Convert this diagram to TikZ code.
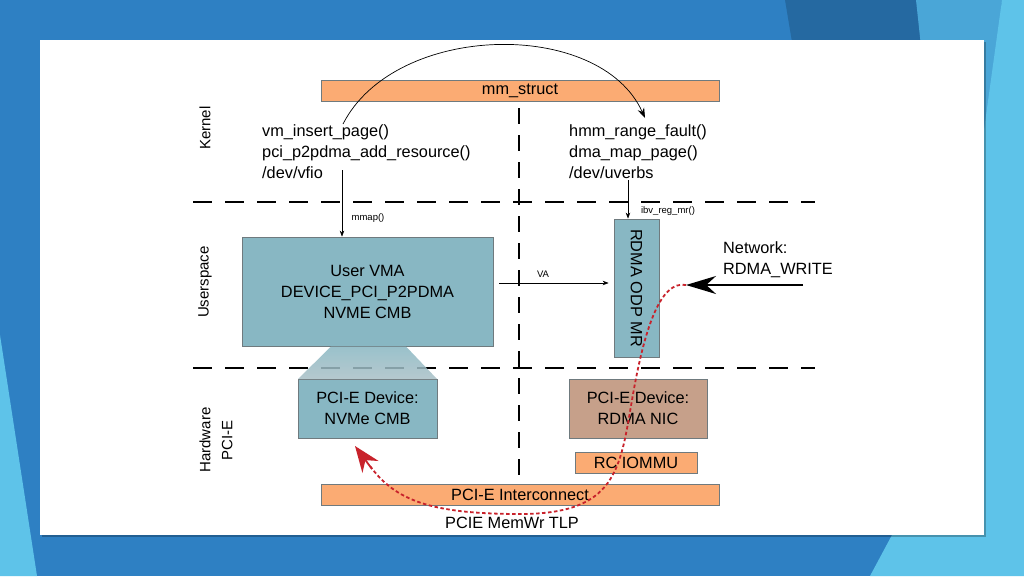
\documentclass[tikz,border=0pt]{standalone}
\usepackage{fontspec}
\setmainfont{Liberation Sans}
\usetikzlibrary{arrows.meta}
\definecolor{bgblue}{HTML}{2E80C3}
\definecolor{bgdark}{HTML}{2569A1}
\definecolor{bgmid}{HTML}{4AA6D7}
\definecolor{bglight}{HTML}{5EC3E9}
\definecolor{teal}{HTML}{88B7C3}
\definecolor{tealfade}{HTML}{A9C0C6}
\definecolor{orng}{HTML}{FBAB73}
\definecolor{tan}{HTML}{C6A08A}
\definecolor{bordergray}{HTML}{6F7A7E}
\definecolor{redline}{HTML}{C8222B}
\begin{document}
\begin{tikzpicture}[x=1pt,y=-1pt,
  boxstyle/.style={draw=bordergray, line width=0.8pt, inner sep=0pt, align=center,
    font=\fontsize{16.3}{21}\selectfont},
  tealbox/.style={boxstyle, fill=teal},
  orbar/.style={boxstyle, fill=orng},
  tanbox/.style={boxstyle, fill=tan},
  bigtext/.style={inner sep=0pt, align=left, font=\fontsize{16.3}{21}\selectfont},
  smalltext/.style={inner sep=0pt, font=\fontsize{9.5}{11}\selectfont},
  sidelabel/.style={inner sep=0pt, align=center, rotate=90, font=\fontsize{15}{22}\selectfont},
  hdash/.style={line width=2.8pt, dash pattern=on 19pt off 13pt},
  vdash/.style={line width=2.6pt, dash pattern=on 16pt off 11pt},
  thinarrow/.style={line width=0.6pt, -{Stealth[length=6pt,width=4.5pt]}},
]
\useasboundingbox (0,0) rectangle (1024,576);
% background
\fill[bgblue] (0,0) rectangle (1024,576);
\fill[bgdark] (785,0) -- (916,0) -- (930,60) -- (795,60) -- cycle;
\fill[bgmid] (916,0) -- (1002,0) -- (990,130) -- (930,130) -- cycle;
\fill[bglight] (1002,0) -- (1024,0) -- (1024,576) -- (870,576) -- (900,520) -- (984,130) -- cycle;
\fill[bglight] (0,335) -- (37,576) -- (0,576) -- cycle;
% panel
\fill[black, opacity=0.25] (42,42) rectangle (986,537);
\fill[white] (40,40) rectangle (984,535);

% dashed separators
\draw[hdash] (193,202) -- (815,202);
\draw[hdash] (193,368) -- (815,368);
\draw[vdash] (519,108) -- (519,482);

% side labels
\node[sidelabel] (lkernel) at (205,128) {Kernel};
\node[sidelabel] (luser) at (205,282) {Userspace};
\node[sidelabel] (lhw) at (216,440) {Hardware\\PCI-E};

% kernel row
\node[orbar, minimum width=398pt, minimum height=21pt] (mm) at (520,90.5) {mm\_struct};
\node[bigtext, anchor=north west] (ktl) at (262,124) {vm\_insert\_page()\\pci\_p2pdma\_add\_resource()\\/dev/vfio};
\node[bigtext, anchor=north west] (ktr) at (569,124) {hmm\_range\_fault()\\dma\_map\_page()\\/dev/uverbs};
\coordinate (arcs) at (343,124);
\coordinate (arce) at (645,118);
\draw[line width=0.7pt, -{Stealth[length=10pt,width=7pt]}] (arcs) .. controls (395,22) and (600,18) .. (arce);

% userspace row
\node[tealbox, minimum width=251pt, minimum height=109pt] (vma) at (367.5,291.5)
  {User VMA\\DEVICE\_PCI\_P2PDMA\\NVME CMB};
\node[tealbox, minimum width=45pt, minimum height=138pt] (mr) at (636.5,288) {};
\node[inner sep=0pt, rotate=-90, font=\fontsize{16.3}{18}\selectfont] (mrtext) at (mr.center) {RDMA ODP MR};
\coordinate (mmaps) at (342,170);
\draw[thinarrow] (mmaps) -- (mmaps |- vma.north);
\node[smalltext] (lmmap) at (368,218) {mmap()};
\coordinate (ibvs) at (628,180);
\draw[thinarrow] (ibvs) -- (ibvs |- mr.north);
\node[smalltext] (libv) at (668,211) {ibv\_reg\_mr()};
\coordinate (vas) at (499,283);
\draw[thinarrow, shorten >=5pt] (vas) -- (mr.west |- vas);
\node[smalltext] (lva) at (543,274) {VA};
\node[bigtext, anchor=north west] (net) at (723,241) {Network:\\RDMA\_WRITE};
\coordinate (nets) at (803,285);
\coordinate (nete) at (686,285);
\draw[line width=1.8pt, -{Stealth[length=30pt,width=18pt]}] (nets) -- (nete);

% hardware row
\node[tealbox, minimum width=139pt, minimum height=59pt] (nvme) at (367.5,408.5) {PCI-E Device:\\NVMe CMB};
\node[tanbox, minimum width=138pt, minimum height=59pt] (nic) at (638,408.5) {PCI-E Device:\\RDMA NIC};
\node[orbar, minimum width=122pt, minimum height=21pt] (iommu) at (636,462.5) {RC IOMMU};
\node[orbar, minimum width=398pt, minimum height=21pt] (pcie) at (520,494.5) {PCI-E Interconnect};
\node[inner sep=0pt, font=\fontsize{16.3}{18}\selectfont] (tlp) at (512,523) {PCIE MemWr TLP};

% trapezoid between VMA and NVMe
\shade[top color=teal, bottom color=tealfade, fill opacity=0.85]
  (331,346.5) -- (406,346.5) -- (437,379) -- (298,379) -- cycle;

% red dashed TLP path
\draw[redline, line width=1.8pt, dash pattern=on 3.5pt off 2.5pt]
  (nete) .. controls (660,280) and (644,330) .. (632,400)
  .. controls (620,470) and (616,514) .. (520,514)
  .. controls (430,514) and (395,500) .. (370,466);
\draw[redline, line width=1.8pt, -{Stealth[length=26pt,width=20pt]}] (372,469) -- (355,446);
\end{tikzpicture}
\end{document}
